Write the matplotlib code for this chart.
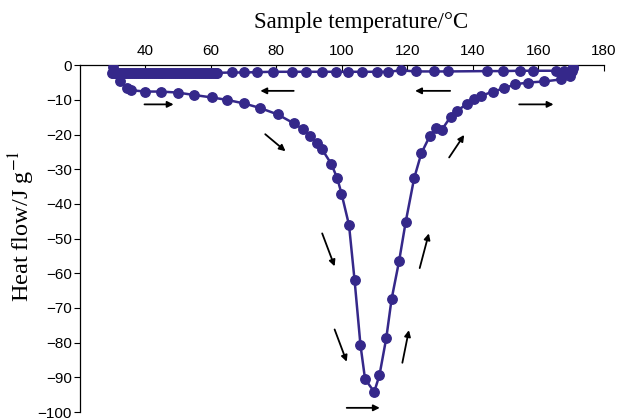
import matplotlib
matplotlib.use("Agg")
import matplotlib.pyplot as plt

# Heating scan (lower curve)
heat_T = [30.2, 30.6, 32.2, 34.5, 35.5, 39.9, 44.8, 49.9, 54.9, 60.3, 64.9, 70.0,
          74.9, 80.4, 85.4, 88.2, 90.4, 92.5, 94.0, 96.8, 98.6, 99.9, 102.2, 103.9,
          105.7, 107.1, 109.9, 111.5, 113.6, 115.2, 117.5, 119.5, 122.1, 124.3,
          126.9, 128.9, 130.5, 133.3, 135.3, 138.2, 140.4, 142.5, 146.1, 149.6,
          152.9, 157.0, 161.7, 167.0, 169.8, 170.5]
heat_H = [-0.4, -2.3, -4.7, -6.7, -7.2, -7.6, -7.6, -7.9, -8.6, -9.3, -10.0, -11.0,
          -12.3, -14.2, -16.8, -18.5, -20.4, -22.5, -24.3, -28.5, -32.6, -37.0, -46.1, -62.0,
          -80.7, -90.5, -94.2, -89.4, -78.6, -67.5, -56.5, -45.3, -32.6, -25.4,
          -20.4, -18.2, -18.7, -14.8, -13.1, -11.2, -9.7, -8.9, -7.6, -6.7,
          -5.5, -5.0, -4.7, -4.1, -3.0, -0.9]

# Cooling scan (upper, nearly flat line)
cool_T = [170.5, 170.3, 168.0, 165.3, 158.3, 154.3, 149.2, 144.3, 132.5, 128.1,
          122.8, 118.1, 114.1, 110.6, 106.2, 101.8, 98.1, 94.0, 89.2, 84.9, 79.0,
          74.1, 70.2, 66.4, 62.0, 61.4, 60.8, 60.2, 59.6, 59.0, 58.4, 57.8, 57.2,
          56.6, 56.0, 55.4, 54.8, 54.2, 53.6, 53.0, 52.4, 51.8, 51.2, 50.6, 50.0,
          49.4, 48.8, 48.2, 47.6, 47.0, 46.4, 45.8, 45.2, 44.6, 44.0, 43.4, 42.8,
          42.2, 41.6, 41.0, 40.4, 39.8, 39.2, 38.6, 38.0, 37.4, 36.8, 36.2, 35.6,
          35.0, 34.4, 33.8, 33.2, 32.6, 32.0, 31.4, 30.8, 30.2, 29.8]
cool_H = [-0.6, -1.6, -1.6, -1.6, -1.6, -1.6, -1.7, -1.7, -1.8, -1.8,
          -1.8, -1.5, -1.9, -1.9, -1.9, -1.9, -1.9, -1.9, -1.9, -1.9, -1.9,
          -2.0, -2.1, -2.1, -2.2, -2.2, -2.2, -2.2, -2.2, -2.2, -2.2, -2.2, -2.2,
          -2.2, -2.2, -2.2, -2.2, -2.3, -2.3, -2.3, -2.3, -2.3, -2.3, -2.3, -2.3,
          -2.3, -2.3, -2.3, -2.3, -2.3, -2.3, -2.3, -2.3, -2.3, -2.3, -2.3, -2.3,
          -2.3, -2.3, -2.3, -2.3, -2.3, -2.3, -2.3, -2.3, -2.3, -2.3, -2.3, -2.3,
          -2.3, -2.3, -2.3, -2.3, -2.3, -2.3, -2.3, -2.3, -2.3, -2.3]

# Direction arrows: (start T, start H, end T, end H)
arrows = [
    (39.7, -11.3, 48.6, -11.3),
    (85.3, -7.4, 75.1, -7.4),
    (76.6, -19.9, 82.8, -24.8),
    (94.0, -48.5, 97.8, -58.0),
    (97.8, -76.2, 101.5, -85.5),
    (101.5, -98.8, 111.6, -98.8),
    (118.5, -85.8, 120.5, -76.4),
    (123.8, -58.5, 126.6, -48.5),
    (132.8, -26.6, 137.4, -20.1),
    (133.1, -7.4, 122.4, -7.4),
    (154.2, -11.3, 164.7, -11.3),
]

x_ticks = [40, 60, 80, 100, 120, 140, 160, 180]
y_ticks = [0, -10, -20, -30, -40, -50, -60, -70, -80, -90, -100]

color = "#35288a"
plt.rcParams['mathtext.fontset'] = 'stix'

fig = plt.figure(figsize=(6.17, 4.19), dpi=100)
ax = fig.add_axes([0.1297, 0.0167, 0.8486, 0.8277])

ax.plot(cool_T, cool_H, '-o', color=color, lw=1.8, ms=6.8, zorder=3)
ax.plot(heat_T, heat_H, '-o', color=color, lw=1.8, ms=6.8, zorder=3)

for (x0, y0, x1, y1) in arrows:
    ax.annotate('', xy=(x1, y1), xytext=(x0, y0),
                arrowprops=dict(arrowstyle='-|>', color='black', lw=1.3,
                                mutation_scale=9, shrinkA=0, shrinkB=0))

ax.set_xlim(20, 180)
ax.set_ylim(-100, 0)
ax.xaxis.tick_top()
ax.xaxis.set_label_position('top')
ax.set_xticks(x_ticks)
ax.set_yticks(y_ticks)
ax.set_yticklabels([str(v).replace('-', '\u2212') for v in y_ticks])
ax.spines['right'].set_visible(False)
ax.spines['bottom'].set_visible(False)
ax.spines['top'].set_linewidth(0.9)
ax.spines['left'].set_linewidth(0.9)
ax.tick_params(axis='x', direction='in', length=4, pad=5, labelsize=11, width=0.8)
ax.tick_params(axis='y', direction='out', length=4, pad=2, labelsize=11, width=0.8)
for lab in ax.get_xticklabels() + ax.get_yticklabels():
    lab.set_fontfamily('Liberation Sans')

ax.set_xlabel('Sample temperature/\u00b0C', fontfamily='Liberation Serif', fontsize=16.5, labelpad=12)
ax.xaxis.label.set_x(0.5376)
ax.set_ylabel(r'Heat flow/J g$^{-1}$', fontfamily='Liberation Serif', fontsize=17.5, labelpad=0)
ax.yaxis.label.set_y(0.535)

fig.savefig('out.png', dpi=100)
